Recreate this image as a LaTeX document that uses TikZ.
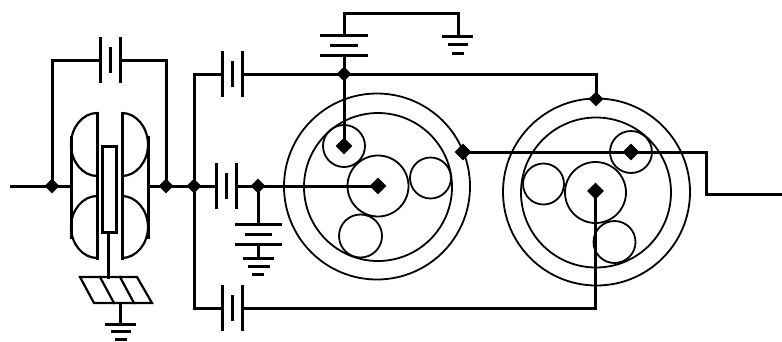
\documentclass[tikz,border=0pt]{standalone}
\usepackage{tikz}
\usetikzlibrary{shapes.geometric}

\begin{document}
\begin{tikzpicture}[
x=1pt, y=-1pt,
wire/.style={line width=3pt, line cap=rect, line join=miter},
thin wire/.style={line width=1.8pt},
bar/.style={line width=3pt},
joint/.style={
	diamond, fill=black, inner sep=0pt,
	minimum size=15pt
},
big joint/.style={joint, minimum size=17pt},
gear/.style={circle, draw, thin wire, inner sep=0pt, minimum size=#1}
]
\useasboundingbox (0,0) rectangle (782,341);
% gears
\foreach \name/\x/\y/\d in {
	ringA/377/186.5/186, innerA/378/187/148, sunA/378/186/61,
	planA/344/146/42, planB/430.5/178/41, planC/360.5/236/43,
	ringB/596.5/192/187, innerB/596/192.5/150, sunB/595.5/192.5/61,
	planD/631/152/42, planE/543.5/184/41, planF/614.5/242/42}
{
	\node[gear=\d pt] (\name) at (\x,\y) {};
}
% joints
\node[joint] (in) at (52,186) {};
\node[joint] (out) at (166,186) {};
\node[joint] (bus) at (194,186) {};
\node[joint] (mid) at (258,186) {};
\node[joint] (top) at (344,74) {};
\node[joint] (rim) at (596,99) {};
\node[big joint] (carA) at (463,152) {};
\node[big joint] (pinA) at (344,146) {};
\node[big joint] (hubA) at (378,186) {};
\node[big joint] (pinD) at (631,152) {};
\node[big joint] (hubB) at (595.5,191) {};
% wire ends
\coordinate (start) at (11,186);
\coordinate (stop) at (782,194);
\coordinate (bend) at (706,152);
\coordinate (bendB) at (706,194);
\coordinate (fanL) at (71,186);
\coordinate (fanR) at (148,186);
\coordinate (capL) at (100,60);
\coordinate (capR) at (120,60);
\coordinate (topL) at (222,74);
\coordinate (topR) at (242,74);
\coordinate (midL) at (216,186);
\coordinate (midR) at (236,186);
\coordinate (lowL) at (222,308);
\coordinate (lowR) at (242,308);
\coordinate (batT) at (344,55);
\coordinate (batU) at (344,35);
\coordinate (earthT) at (458,36);
\coordinate (batM) at (258,224);
\coordinate (batN) at (258,244);
\coordinate (earthM) at (258,258);
\coordinate (rod) at (108.5,232);
\coordinate (rodB) at (108.5,277);
\coordinate (earthF) at (120,303);
\coordinate (earthG) at (120,324);
% connectors
\draw[wire] (start) -- (in.center) -- (fanL);
\draw[wire] (fanR) -- (out.center) -- (bus.center) -- (midL);
\draw[wire] (in.center) |- (capL);
\draw[wire] (out.center) |- (capR);
\draw[wire] (topL) -| (bus.center) |- (lowL);
\draw[wire] (topR) -- (top.center) -| (rim.center);
\draw[wire] (top.center) -- (batT);
\draw[wire] (top.center) -- (pinA.center);
\draw[wire] (batU) -- (344,13) -| (earthT);
\draw[wire] (midR) -- (mid.center) -- (hubA.center);
\draw[wire] (mid.center) -- (batM);
\draw[wire] (batN) -- (earthM);
\draw[wire] (hubB.center) |- (lowR);
\draw[wire] (carA.center) -- (pinD.center) -- (bend) -- (bendB) -- (stop);
\draw[wire] (rod) -- (rodB);
\draw[wire] (earthF) -- (earthG);
% capacitor plates
\foreach \x/\y in {100/60, 222/74, 216/186, 222/308}
{
	\draw[bar] (\x,\y-23) -- (\x,\y+23);
	\draw[bar] (\x+10,\y-13) -- (\x+10,\y+13);
	\draw[bar] (\x+20,\y-23) -- (\x+20,\y+23);
}
% battery and ground bars
\foreach \y/\a/\b in {
	55/320/368, 45/330/358, 35/320/368,
	36/442/473, 44/448/468, 53/452/464,
	224/235/282, 234/245/272, 244/235/282,
	258/243/274, 266/248/270, 274/252/264,
	324/105/136, 331/111/131, 339/115/127}
{
	\draw[bar] (\a,\y) -- (\b,\y);
}
% fan halves
\foreach \s/\d in {0/1, 219/-1}
{
	\begin{scope}[shift={(\s,0)}, xscale=\d]
		\draw[wire] (97,113) -- (97,258);
		\draw[wire, line width=2.2pt, line cap=butt] (97,113) .. controls (83,113) and (71,127) .. (71,144.5)
			.. controls (71,162) and (83,176) .. (97,176);
		\draw[wire, line width=2.2pt, line cap=butt] (97,196) .. controls (83,196) and (71,210) .. (71,227)
			.. controls (71,244) and (83,258) .. (97,258);
		\draw[wire] (71,137) -- (71,237);
	\end{scope}
}
\draw[wire, fill=white] (102.5,146) rectangle (116.5,232);
% foot
\draw[wire, line width=2.2pt] (80,277) -- (137,277) -- (152,303) -- (94,303) -- cycle;
\foreach \x in {100,120}
{
	\draw[wire, line width=2.2pt] (\x,277) -- (\x+14,303);
}
\end{tikzpicture}
\end{document}
